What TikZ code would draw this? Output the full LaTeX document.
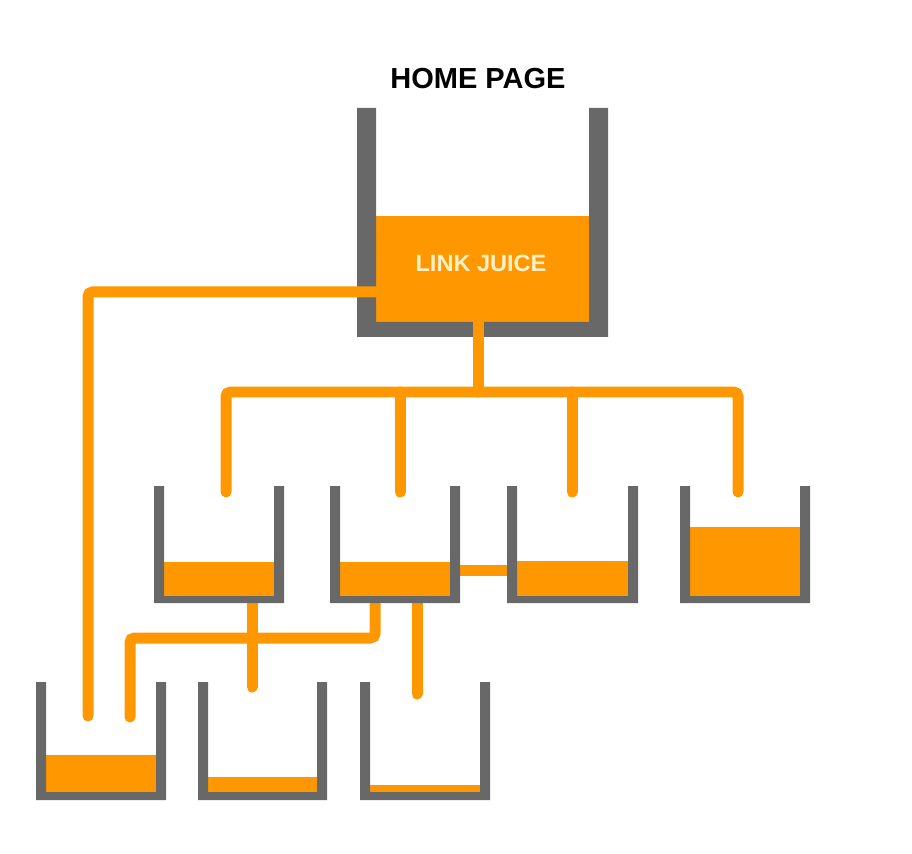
\documentclass[tikz,border=0pt]{standalone}
\usepackage{fontspec}
\setmainfont{Liberation Sans}
\usetikzlibrary{positioning}

\definecolor{juice}{HTML}{FF9800}
\definecolor{wallgray}{HTML}{686868}
\definecolor{labelcream}{HTML}{FFF0C8}

% #1 left, #2 right, #3 top, #4 bottom, #5 side wall, #6 bottom wall, #7 juice level
\newcommand{\juiceglass}[7]{%
  \fill[juice] (#1+#5,#7) rectangle (#2-#5,#4-#6);
  \fill[wallgray] (#1,#3) -- (#1,#4) -- (#2,#4) -- (#2,#3) -- (#2-#5,#3)
    -- (#2-#5,#4-#6) -- (#1+#5,#4-#6) -- (#1+#5,#3) -- cycle;
}

\tikzset{
  pipe/.style={draw=juice, line width=0.22cm, line cap=round, rounded corners=0.09cm},
  caption/.style={font=\bfseries\fontsize{16.5}{18}\selectfont},
}

\begin{document}
\begin{tikzpicture}[x=0.02cm, y=-0.02cm]
  \useasboundingbox (0,0) rectangle (912,854);

  \node[caption] (title) at (478,79) {HOME PAGE};

  % home page glass
  \juiceglass{357}{608}{108}{337}{19}{15}{216}
  \node[text=labelcream, font=\bfseries\fontsize{13.4}{15}\selectfont] (linkjuice) at (481,263) {LINK JUICE};

  % pipe ends
  \coordinate (home-side) at (382,292);
  \coordinate (home-out) at (478,318);
  \coordinate (home-hub) at (478,392);
  \coordinate (g1-in) at (226,492);
  \coordinate (g2-in) at (400,492);
  \coordinate (g3-in) at (572,492);
  \coordinate (g4-in) at (738,492);
  \coordinate (g2-side) at (456,570);
  \coordinate (g3-side) at (511,570);
  \coordinate (g1-out) at (252,598);
  \coordinate (g2-outa) at (375,598);
  \coordinate (g2-outb) at (417,598);
  \coordinate (ga-in1) at (88,716);
  \coordinate (ga-in2) at (130,717);
  \coordinate (gb-in) at (252,687);
  \coordinate (gc-in) at (417,694);
  \coordinate (g2-bend) at (375,638);

  % pipes
  \draw[pipe] (home-side) -| (ga-in1);
  \draw[pipe] (home-out) -- (home-hub);
  \draw[pipe] (g1-in) |- (home-hub) -| (g4-in);
  \draw[pipe] (g2-in) -- (g2-in |- home-hub);
  \draw[pipe] (g3-in) -- (g3-in |- home-hub);
  \draw[pipe] (g2-side) -- (g3-side);
  \draw[pipe] (g2-outa) -- (g2-bend) -| (ga-in2);
  \draw[pipe] (g1-out) -- (gb-in);
  \draw[pipe] (g2-outb) -- (gc-in);

  % second row
  \juiceglass{154}{284}{486}{603}{10}{7}{562}
  \juiceglass{330}{460}{486}{603}{10}{7}{562}
  \juiceglass{507}{638}{486}{603}{10}{7}{561}
  \juiceglass{680}{810}{486}{603}{10}{7}{527}

  % third row
  \juiceglass{36}{166}{682}{800}{10}{8}{755}
  \juiceglass{198}{327}{682}{800}{10}{8}{777}
  \juiceglass{360}{490}{682}{800}{10}{8}{785}
\end{tikzpicture}
\end{document}
